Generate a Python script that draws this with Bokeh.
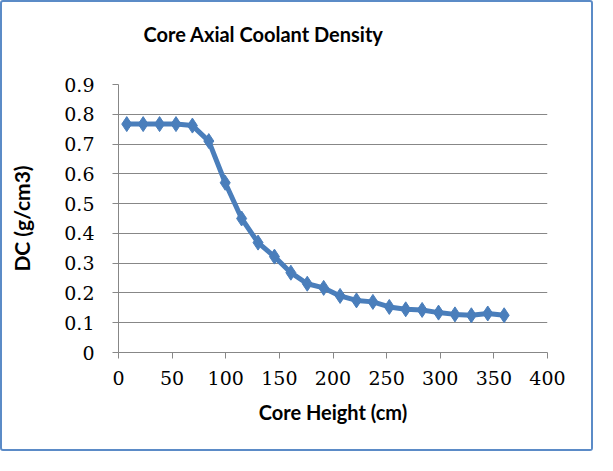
from bokeh.plotting import figure
from bokeh.models import FixedTicker, Range1d, LinearAxis
from bokeh.embed import file_html
from bokeh.resources import INLINE

# Data
core_height_cm = [7.7, 23.0, 38.3, 53.6, 68.9, 84.2, 99.5, 114.8, 130.1, 145.4,
                  160.7, 176.0, 191.3, 206.6, 221.9, 237.2, 252.5, 267.8, 283.1,
                  298.4, 313.7, 329.0, 344.3, 359.6]
density_g_cm3 = [0.767, 0.767, 0.767, 0.767, 0.762, 0.71, 0.57, 0.45, 0.369, 0.322,
                 0.268, 0.231, 0.217, 0.19, 0.175, 0.17, 0.153, 0.145, 0.143,
                 0.134, 0.128, 0.125, 0.131, 0.125]

x_ticks = [0, 50, 100, 150, 200, 250, 300, 350, 400]
x_tick_labels = ["0", "50", "100", "150", "200", "250", "300", "350", "400"]
y_ticks = [0, 0.1, 0.2, 0.3, 0.4, 0.5, 0.6, 0.7, 0.8, 0.9]
y_tick_labels = ["0", "0.1", "0.2", "0.3", "0.4", "0.5", "0.6", "0.7", "0.8", "0.9"]

title_text = "Core Axial Coolant Density"
x_label = "Core Height (cm)"
y_label = "DC (g/cm3)"

BLUE = "#4A7EBB"
GRID = "#878787"

p = figure(width=593, height=451, output_backend="svg", toolbar_location=None,
           x_range=Range1d(0, 400), y_range=Range1d(0, 0.9),
           min_border_left=116, min_border_right=48, min_border_top=82,
           min_border_bottom=101, background_fill_color="white",
           border_fill_color="white", title=title_text)

p.styles = {"border": "2px solid #5B8BC7", "border-radius": "3px"}
p.outline_line_color = None

xa = p.below[0]
ya = p.left[0]

# Invisible spacer between the title and the plot area
spacer = LinearAxis(ticker=FixedTicker(ticks=[x_ticks[0]]), major_tick_out=18,
                    major_tick_in=0, axis_line_color=None,
                    major_tick_line_color=None, minor_tick_line_color=None,
                    major_label_text_font_size="1px", major_label_standoff=0,
                    major_label_text_color=None)
p.add_layout(spacer, "above")

# Title
p.title.text_font = "Lato"
p.title.text_font_size = "20px"
p.title.text_font_style = "bold"
p.title.text_color = "black"
p.title.align = "left"
p.title.offset = 25
p.title.vertical_align = "top"
p.title.standoff = 38

# Axes
xa.ticker = FixedTicker(ticks=x_ticks)
ya.ticker = FixedTicker(ticks=y_ticks)
xa.major_label_overrides = {t: l for t, l in zip(x_ticks, x_tick_labels)}
ya.major_label_overrides = {t: l for t, l in zip(y_ticks, y_tick_labels)}
for ax in (xa, ya):
    ax.axis_line_color = GRID
    ax.major_tick_line_color = GRID
    ax.major_tick_out = 6
    ax.major_tick_in = 0
    ax.minor_tick_line_color = None
    ax.major_label_text_font = "DejaVu Serif"
    ax.major_label_text_font_size = "19px"
    ax.major_label_text_color = "black"
    ax.axis_label_text_font = "Lato"
    ax.axis_label_text_font_size = "20px"
    ax.axis_label_text_font_style = "bold"
    ax.axis_label_text_color = "black"

xa.axis_label = x_label
ya.axis_label = y_label
ya.axis_label_text_font_size = "21px"
xa.major_label_standoff = 12
ya.major_label_standoff = 18
xa.axis_label_standoff = 12
ya.axis_label_standoff = 27

p.xgrid.grid_line_color = None
p.ygrid.grid_line_color = GRID
p.ygrid.grid_line_width = 1

p.line(core_height_cm, density_g_cm3, line_color=BLUE, line_width=5)
p.scatter(core_height_cm, density_g_cm3, marker="diamond", size=15,
          fill_color=BLUE, line_color=BLUE)

open("out.html", "w").write(file_html(p, INLINE))
